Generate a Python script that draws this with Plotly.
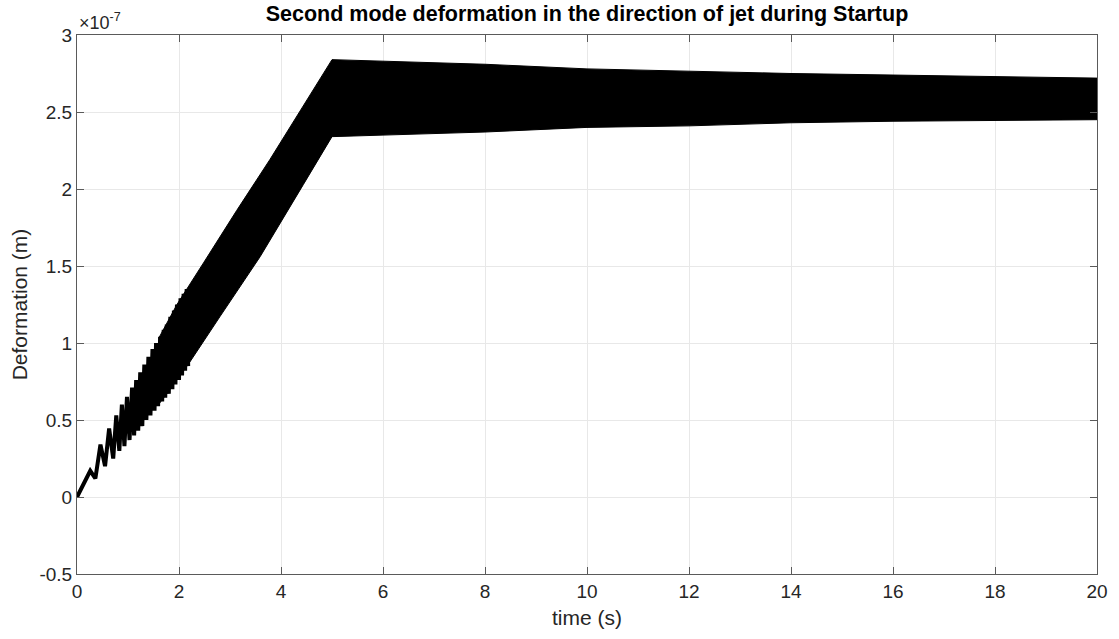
import plotly.graph_objects as go

# values in units of 1e-7 m
# early oscillation lobes (peaks and troughs)
peak_t = [0.26, 0.46, 0.63, 0.77, 0.88, 0.98, 1.08, 1.16, 1.24, 1.32, 1.40, 1.48, 1.55, 1.63, 1.70, 1.76, 1.83, 1.90, 1.96, 2.03, 2.09, 2.15]
peak_v = [0.17, 0.34, 0.445, 0.53, 0.60, 0.65, 0.71, 0.76, 0.81, 0.86, 0.91, 0.96, 1.00, 1.04, 1.085, 1.12, 1.17, 1.21, 1.25, 1.29, 1.32, 1.35]
trough_t = [0.36, 0.55, 0.71, 0.83, 0.93, 1.03, 1.12, 1.20, 1.28, 1.36, 1.44, 1.52, 1.59, 1.67, 1.73, 1.80, 1.87, 1.93, 2.00, 2.06, 2.12, 2.18]
trough_v = [0.12, 0.20, 0.25, 0.30, 0.33, 0.37, 0.40, 0.43, 0.46, 0.50, 0.53, 0.56, 0.59, 0.62, 0.645, 0.67, 0.70, 0.73, 0.76, 0.79, 0.82, 0.85]

# envelope of the dense oscillation band
upper_t = [1.60, 1.96, 2.48, 3.13, 3.78, 4.31, 5.0, 6.0, 8.0, 10.0, 12.0, 14.0, 16.0, 18.0, 20.0]
upper_v = [1.03, 1.25, 1.52, 1.86, 2.19, 2.47, 2.84, 2.83, 2.81, 2.78, 2.765, 2.75, 2.74, 2.73, 2.72]
lower_t = [1.60, 2.20, 2.80, 3.59, 4.44, 5.0, 6.0, 8.0, 10.0, 12.0, 14.0, 16.0, 18.0, 20.0]
lower_v = [0.60, 0.87, 1.17, 1.56, 2.03, 2.34, 2.35, 2.37, 2.40, 2.41, 2.43, 2.44, 2.445, 2.45]

x_ticks = [0, 2, 4, 6, 8, 10, 12, 14, 16, 18, 20]
y_ticks = [-0.5, 0, 0.5, 1, 1.5, 2, 2.5, 3]
y_tick_text = ["-0.5", "0", "0.5", "1", "1.5", "2", "2.5", "3"]

# zigzag through lobes
zz_t = [0.0]
zz_v = [0.0]
for pt, pv, tt, tv in zip(peak_t, peak_v, trough_t, trough_v):
    zz_t += [pt, tt]
    zz_v += [pv, tv]

fig = go.Figure()
fig.add_trace(go.Scatter(
    x=upper_t + lower_t[::-1], y=upper_v + lower_v[::-1],
    fill="toself", fillcolor="black", mode="lines",
    line=dict(color="black", width=1), hoverinfo="skip", showlegend=False))
fig.add_trace(go.Scatter(
    x=zz_t, y=zz_v, mode="lines",
    line=dict(color="black", width=4), showlegend=False))

font = "Liberation Sans, Arial, Helvetica, sans-serif"
axis_common = dict(
    showgrid=True, gridcolor="#e8e8e8", gridwidth=1,
    showline=True, linecolor="#5a5a5a", linewidth=1, mirror="ticks",
    ticks="inside", ticklen=7, tickcolor="#5a5a5a",
    zeroline=False,
    tickfont=dict(family=font, size=19, color="#262626"),
)
fig.update_xaxes(range=[0, 20], tickvals=x_ticks,
                 title=dict(text="time (s)", font=dict(family=font, size=21, color="#262626"), standoff=9),
                 **axis_common)
fig.update_yaxes(range=[-0.5, 3], tickvals=y_ticks, ticktext=y_tick_text,
                 title=dict(text="Deformation (m)", font=dict(family=font, size=21, color="#262626"), standoff=6),
                 **axis_common)

fig.update_layout(
    width=1119, height=639,
    margin=dict(l=77, r=22, t=35, b=65),
    plot_bgcolor="white", paper_bgcolor="white",
    title=dict(text="<b>Second mode deformation in the direction of jet during Startup</b>",
               x=0.5, xref="paper", xanchor="center", y=0.979, yanchor="middle",
               font=dict(family=font, size=21.5, color="black")),
    annotations=[dict(text="×10<sup>-7</sup>", xref="paper", yref="paper", x=0.0, y=1.0,
                      xanchor="left", yanchor="bottom", showarrow=False, yshift=0,
                      font=dict(family=font, size=18, color="#262626"))],
)

fig.write_html("out.html", config={"displayModeBar": False},
               post_script="document.body.style.margin='0';document.body.style.padding='0';")
